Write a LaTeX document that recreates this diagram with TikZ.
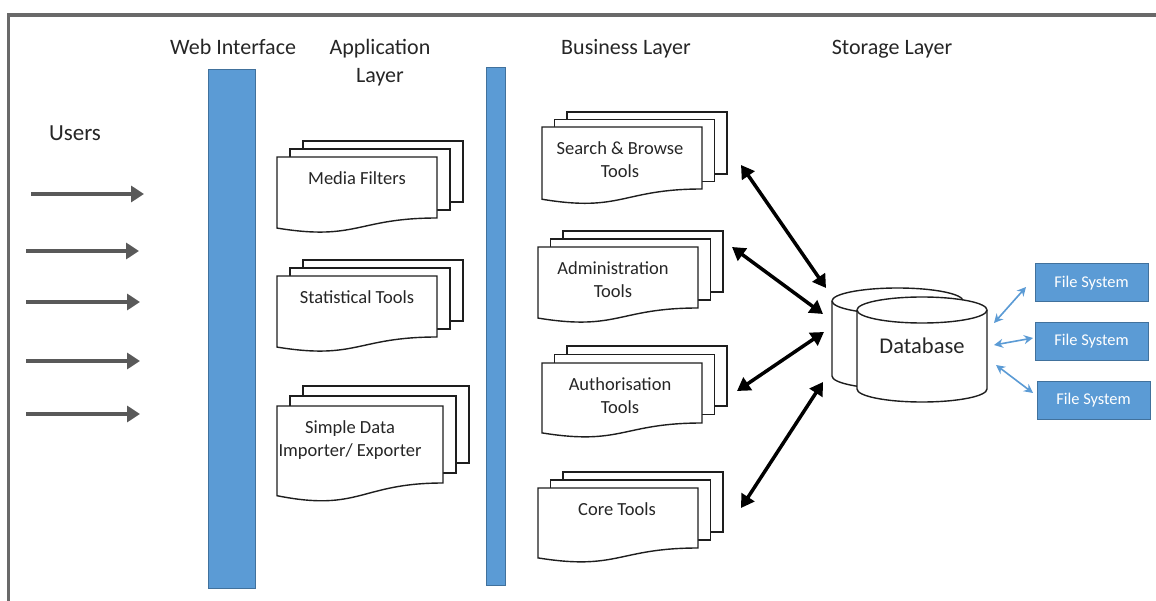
\documentclass[tikz,border=0pt]{standalone}
\usepackage{fontspec}
\setmainfont{Carlito}
\usetikzlibrary{arrows.meta}
\definecolor{barblue}{HTML}{5B9BD5}
\definecolor{baredge}{HTML}{41719C}
\definecolor{framegray}{HTML}{696969}
\definecolor{usergray}{HTML}{595959}
\definecolor{inkline}{HTML}{1E1E1E}

% stacked documents: name, x, y (front top-left), width, height, dx, dy, text, text x-shift
\newcommand\multidoc[9]{%
  \draw[docline] (#2+2*#6, #3-2*#7) rectangle ++(#4, #5);
  \draw[docline] (#2+#6, #3-#7) rectangle ++(#4, #5);
  \draw[docline] (#2, #3) -- (#2+#4, #3) -- (#2+#4, #3+#5)
     .. controls (#2+#4/2, #3+#5) and (#2+#4/2, #3+1.38*#5) .. (#2, #3+1.165*#5) -- cycle;
  \node[doctext, anchor=north] (#1) at (#2+#4/2+#9, #3+14) {#8};
}

% cylinder: centre x, half width, top y, bottom y, ellipse radius
\newcommand\dbcyl[5]{%
  \filldraw[dbline] (#1-#2,#3) -- (#1-#2,#4)
   .. controls (#1-#2,#4+0.5523*#5) and (#1-0.5523*#2,#4+#5) .. (#1,#4+#5)
   .. controls (#1+0.5523*#2,#4+#5) and (#1+#2,#4+0.5523*#5) .. (#1+#2,#4)
   -- (#1+#2,#3)
   .. controls (#1+#2,#3-0.5523*#5) and (#1+0.5523*#2,#3-#5) .. (#1,#3-#5)
   .. controls (#1-0.5523*#2,#3-#5) and (#1-#2,#3-0.5523*#5) .. (#1-#2,#3) -- cycle;
  \draw[dbline] (#1-#2,#3)
   .. controls (#1-#2,#3+0.5523*#5) and (#1-0.5523*#2,#3+#5) .. (#1,#3+#5)
   .. controls (#1+0.5523*#2,#3+#5) and (#1+#2,#3+0.5523*#5) .. (#1+#2,#3);
}

\begin{document}
\begin{tikzpicture}[x=1pt, y=-1pt,
  head/.style={font=\fontsize{22}{28}\selectfont, inner sep=0pt, text=black!85},
  docline/.style={draw=inkline, fill=white, line width=1.4pt, line join=miter},
  dbline/.style={draw=inkline, fill=white, line width=1.4pt},
  doctext/.style={font=\fontsize{18.5}{23.5}\selectfont, align=center, inner sep=0pt, text=black!85},
  layerbar/.style={draw=baredge, fill=barblue, line width=1pt},
  fsbox/.style={draw=baredge, fill=barblue, line width=1pt, minimum width=113pt, minimum height=38pt,
    inner sep=0pt, text=white, font=\fontsize{16.4}{19}\selectfont},
  userarrow/.style={draw=usergray, line width=4pt, -{Triangle[length=13pt,width=16pt]}},
  dbarrow/.style={draw=black, line width=3.5pt, {Triangle[length=13pt,width=15pt]}-{Triangle[length=13pt,width=15pt]}},
  fsarrow/.style={draw=barblue, line width=1.6pt, {Stealth[length=9pt,width=9pt]}-{Stealth[length=9pt,width=9pt]}}
]
\useasboundingbox (0,0) rectangle (1156,601);
\fill[white] (0,0) rectangle (1156,601);

% outer frame
\draw[framegray, line width=3.5pt] (8.5,601) -- (8.5,15) -- (1156,15);

% headings
\node[head, anchor=base] (hweb) at (233,55) {Web Interface};
\node[head, anchor=north, align=center] (happ) at (380,39) {Application\\Layer};
\node[head, anchor=base] (hbus) at (626,55) {Business Layer};
\node[head, anchor=base] (hsto) at (892,55) {Storage Layer};
\node[head, anchor=base, font=\fontsize{23}{28}\selectfont] (users) at (75,141) {Users};

% layer bars
\draw[layerbar] (208,70) rectangle (255,588);
\draw[layerbar] (486,68) rectangle (505,585);

% incoming user requests
\coordinate (u1a) at (31,194);  \coordinate (u1b) at (144,194);
\coordinate (u2a) at (26,251);  \coordinate (u2b) at (139,251);
\coordinate (u3a) at (26,302);  \coordinate (u3b) at (140,302);
\coordinate (u4a) at (26,361);  \coordinate (u4b) at (140,361);
\coordinate (u5a) at (26,414);  \coordinate (u5b) at (140,414);
\draw[userarrow] (u1a) -- (u1b);
\draw[userarrow] (u2a) -- (u2b);
\draw[userarrow] (u3a) -- (u3b);
\draw[userarrow] (u4a) -- (u4b);
\draw[userarrow] (u5a) -- (u5b);

% application layer
\multidoc{mf}{277}{157}{160}{61}{13}{8}{Media Filters}{0}
\multidoc{st}{277}{276}{160}{61}{13}{8}{Statistical Tools}{0}
\multidoc{sd}{277}{406}{166}{77}{13}{10}{Simple Data\\Importer/ Exporter}{-10}

% business layer
\multidoc{sb}{542}{127}{160}{62}{12.5}{7.5}{Search \& Browse\\Tools}{-2}
\multidoc{ad}{538}{247}{160}{61}{12.5}{8}{Administration\\Tools}{-5}
\multidoc{au}{542}{363}{160}{60}{12.5}{8.5}{Authorisation\\Tools}{-2}
\multidoc{ct}{538}{488}{160}{60}{12.5}{8}{Core Tools}{-1}

% storage layer
\dbcyl{897.5}{65.5}{301}{376}{13}
\dbcyl{922}{65}{310}{389}{13}
\node[font=\fontsize{22.5}{27}\selectfont, inner sep=0pt, text=black!85] (db) at (922,346) {Database};

\node[fsbox] (fs1) at (1091.5,283) {File System};
\node[fsbox] (fs2) at (1091.5,341.5) {File System};
\node[fsbox] (fs3) at (1093.5,400.5) {File System};

% business tools <-> database
\coordinate (sbE) at (741,165); \coordinate (dbS) at (826,288);
\coordinate (adE) at (732,247); \coordinate (dbA) at (823,314);
\coordinate (auE) at (737,391); \coordinate (dbU) at (824,332);
\coordinate (ctE) at (741,508); \coordinate (dbC) at (823,382);
\draw[dbarrow] (sbE) -- (dbS);
\draw[dbarrow] (adE) -- (dbA);
\draw[dbarrow] (auE) -- (dbU);
\draw[dbarrow] (ctE) -- (dbC);

% database <-> file systems
\coordinate (db1) at (994,323); \coordinate (fs1e) at (1026,287);
\coordinate (db2) at (994,345); \coordinate (fs2e) at (1033,338);
\coordinate (db3) at (996,365); \coordinate (fs3e) at (1033,393);
\draw[fsarrow] (db1) -- (fs1e);
\draw[fsarrow] (db2) -- (fs2e);
\draw[fsarrow] (db3) -- (fs3e);
\end{tikzpicture}
\end{document}
